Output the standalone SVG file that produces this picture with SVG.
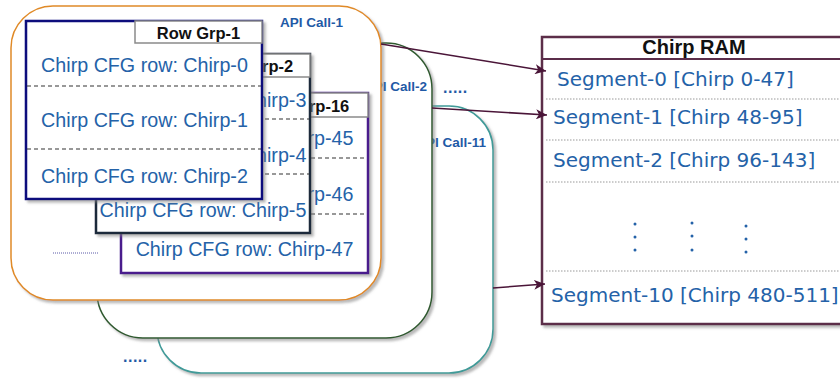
<svg xmlns="http://www.w3.org/2000/svg" width="840" height="381" viewBox="0 0 840 381">
<defs>
<filter id="sh" x="-5%" y="-5%" width="115%" height="115%">
<feDropShadow dx="2.5" dy="2.5" stdDeviation="1.2" flood-color="#808080" flood-opacity="0.55"/>
</filter>
<marker id="arr" markerUnits="userSpaceOnUse" markerWidth="12" markerHeight="10" refX="11" refY="5" orient="auto">
<path d="M0,0 L11,5 L0,10 L3,5 z" fill="#4a1538"/>
</marker>
<style>
.row{font-family:"Liberation Sans",Arial,sans-serif;font-size:19.7px;fill:#2462a8;text-anchor:middle}
.hdr{font-family:"Liberation Sans",Arial,sans-serif;font-size:16.5px;font-weight:bold;fill:#111;text-anchor:middle}
.api{font-family:"Liberation Sans",Arial,sans-serif;font-size:13.5px;font-weight:bold;fill:#1f5aa6}
.seg{font-family:"DejaVu Sans",Verdana,sans-serif;font-size:20px;fill:#2462a8}
.dash{stroke:#333;stroke-width:1.2;stroke-dasharray:4,3}
.tab{fill:#fff;stroke:#8a8a8a;stroke-width:1.5}
.dots{font-family:"Liberation Sans",Arial,sans-serif;font-weight:bold;font-size:16px;fill:#1f5aa6;letter-spacing:0.5px}
.sep{stroke:#999;stroke-width:1;stroke-dasharray:1.5,1.5}
.conn{stroke:#4a1538;stroke-width:1.5;fill:none;marker-end:url(#arr)}
</style>
</defs>
<rect width="840" height="381" fill="#fff"/>

<g id="api-call-11">
<rect x="157" y="106" width="336" height="267" rx="44" fill="#fff" stroke="#3f9a98" stroke-width="1.5" filter="url(#sh)"/>
<text class="api" x="486" y="147" text-anchor="end">API Call-11</text>
</g>

<g id="api-call-2">
<rect x="97" y="43" width="335" height="295" rx="46" fill="#fff" stroke="#2f5a2f" stroke-width="1.5" filter="url(#sh)"/>
<text class="api" x="427" y="91" text-anchor="end">API Call-2</text>
</g>

<g id="api-call-1">
<rect x="11" y="6" width="370" height="294" rx="42" fill="#fff" stroke="#e08a28" stroke-width="1.5" filter="url(#sh)"/>
<text class="api" x="343" y="27" text-anchor="end">API Call-1</text>
<line x1="53" y1="253" x2="99" y2="253" stroke="#5a5aa8" stroke-width="1" stroke-dasharray="1,1"/>
</g>

<g id="row-grp-16">
<rect x="121" y="93" width="247" height="180" fill="#fff" stroke="#4a1f8c" stroke-width="2.5" filter="url(#sh)"/>
<rect class="tab" x="240" y="93" width="128" height="24"/>
<text class="hdr" x="303" y="112">Row Grp-16</text>
<text class="row" x="244.5" y="145">Chirp CFG row: Chirp-45</text>
<line class="dash" x1="122" y1="158" x2="367" y2="158"/>
<text class="row" x="244.5" y="201">Chirp CFG row: Chirp-46</text>
<line class="dash" x1="122" y1="214" x2="367" y2="214"/>
<text class="row" x="244.5" y="256">Chirp CFG row: Chirp-47</text>
</g>

<g id="row-grp-2">
<rect x="96" y="54" width="214" height="179" fill="#fff" stroke="#1b2a3a" stroke-width="2.5" filter="url(#sh)"/>
<rect class="tab" x="190" y="54" width="120" height="23"/>
<text class="hdr" x="251.5" y="72">Row Grp-2</text>
<text class="row" x="203" y="107">Chirp CFG row: Chirp-3</text>
<line class="dash" x1="97" y1="119" x2="309" y2="119"/>
<text class="row" x="203" y="162">Chirp CFG row: Chirp-4</text>
<line class="dash" x1="97" y1="174" x2="309" y2="174"/>
<text class="row" x="203" y="217">Chirp CFG row: Chirp-5</text>
</g>

<g id="row-grp-1">
<rect x="26" y="21" width="236" height="178" fill="#fff" stroke="#0b0b7c" stroke-width="2.5" filter="url(#sh)"/>
<rect class="tab" x="135" y="21" width="127" height="22"/>
<text class="hdr" x="198.5" y="39">Row Grp-1</text>
<text class="row" x="144.5" y="72">Chirp CFG row: Chirp-0</text>
<line class="dash" x1="27" y1="86" x2="261" y2="86"/>
<text class="row" x="144.5" y="127">Chirp CFG row: Chirp-1</text>
<line class="dash" x1="27" y1="149" x2="261" y2="149"/>
<text class="row" x="144.5" y="183">Chirp CFG row: Chirp-2</text>
</g>

<g id="ellipsis-labels">
<text class="dots" x="443" y="93">.....</text>
<text class="dots" x="123" y="362">.....</text>
</g>

<g id="chirp-ram">
<rect x="542" y="37" width="320" height="287" fill="#fff" stroke="#5b2d4a" stroke-width="2.5" filter="url(#sh)"/>
<line x1="542" y1="59" x2="842" y2="59" stroke="#5b2d4a" stroke-width="2"/>
<text x="694" y="54" font-family="Liberation Sans, Arial, sans-serif" font-size="20px" font-weight="bold" fill="#111" text-anchor="middle">Chirp RAM</text>
<text class="seg" x="557" y="86">Segment-0 [Chirp 0-47]</text>
<line class="sep" x1="546" y1="99" x2="840" y2="99"/>
<text class="seg" x="553" y="124">Segment-1 [Chirp 48-95]</text>
<line class="sep" x1="546" y1="140" x2="840" y2="140"/>
<text class="seg" x="553" y="167">Segment-2 [Chirp 96-143]</text>
<line class="sep" x1="546" y1="182" x2="840" y2="182"/>
<g fill="#2462a8">
<circle cx="635" cy="224" r="1.5"/><circle cx="635" cy="237" r="1.5"/><circle cx="635" cy="250" r="1.5"/>
<circle cx="692" cy="223" r="1.5"/><circle cx="692" cy="236" r="1.5"/><circle cx="692" cy="250" r="1.5"/>
<circle cx="746" cy="226" r="1.5"/><circle cx="746" cy="239" r="1.5"/><circle cx="746" cy="252" r="1.5"/>
</g>
<line class="sep" x1="546" y1="271" x2="840" y2="271"/>
<text class="seg" x="551" y="302">Segment-10 [Chirp 480-511]</text>
</g>

<g id="connectors">
<line class="conn" x1="381" y1="44" x2="546" y2="71"/>
<line class="conn" x1="432" y1="108" x2="547" y2="115"/>
<line class="conn" x1="493" y1="288" x2="545" y2="284"/>
</g>
</svg>
